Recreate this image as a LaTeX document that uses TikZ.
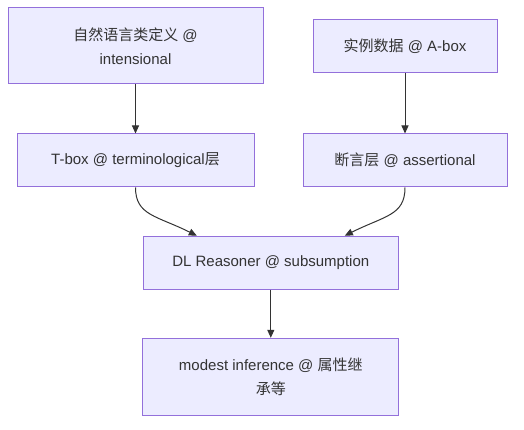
\documentclass[tikz,border=0pt]{standalone}
\usepackage{fontspec}
\setmainfont{Liberation Sans}
\newfontfamily\cjk{Noto Sans CJK SC}
\usetikzlibrary{arrows.meta}
\definecolor{bg}{HTML}{ECECFF}
\definecolor{bd}{HTML}{9370DB}
\definecolor{txt}{HTML}{333333}
\definecolor{ln}{HTML}{333333}
\tikzset{
  box/.style={draw=bd, fill=bg, line width=1pt, text=txt, inner sep=0pt, align=center,
    font=\fontsize{15}{24}\selectfont},
  conn/.style={draw=ln, line width=1pt, -{Triangle[length=8pt,width=7pt]}},
}
\begin{document}
\begin{tikzpicture}[x=1pt,y=-1pt]
\useasboundingbox (0,0) rectangle (524,430);
\node[box, minimum width=255pt, minimum height=76pt] (b1) at (135.5,46) {{\cjk 自然语言类定义} @\\intensional};
\node[box, minimum width=184pt, minimum height=53pt] (b2) at (405,46) {{\cjk 实例数据} @ A-box};
\node[box, minimum width=237pt, minimum height=53pt] (b3) at (135.5,160.5) {T-box @ terminological{\cjk 层}};
\node[box, minimum width=204pt, minimum height=53pt] (b4) at (405,160.5) {{\cjk 断言层} @ assertional};
\node[box, minimum width=255pt, minimum height=53pt] (b5) at (270.8,262.7) {DL Reasoner @ subsumption};
\node[box, minimum width=256pt, minimum height=77pt] (b6) at (270.8,376.8) {modest inference @ {\cjk 属性继}\\{\cjk 承等}};
\coordinate (e5l) at ([xshift=-74pt]b5.north);
\coordinate (e5r) at ([xshift=74pt]b5.north);
\draw[conn] (b1.south) -- (b3.north);
\draw[conn] (b2.south) -- (b4.north);
\draw[conn] (b3.south) .. controls ([yshift=-28pt]b3.south) and ([xshift=-40pt,yshift=20pt]e5l) .. (e5l);
\draw[conn] (b4.south) .. controls ([yshift=-28pt]b4.south) and ([xshift=40pt,yshift=20pt]e5r) .. (e5r);
\draw[conn] (b5.south) -- (b6.north);
\end{tikzpicture}
\end{document}
